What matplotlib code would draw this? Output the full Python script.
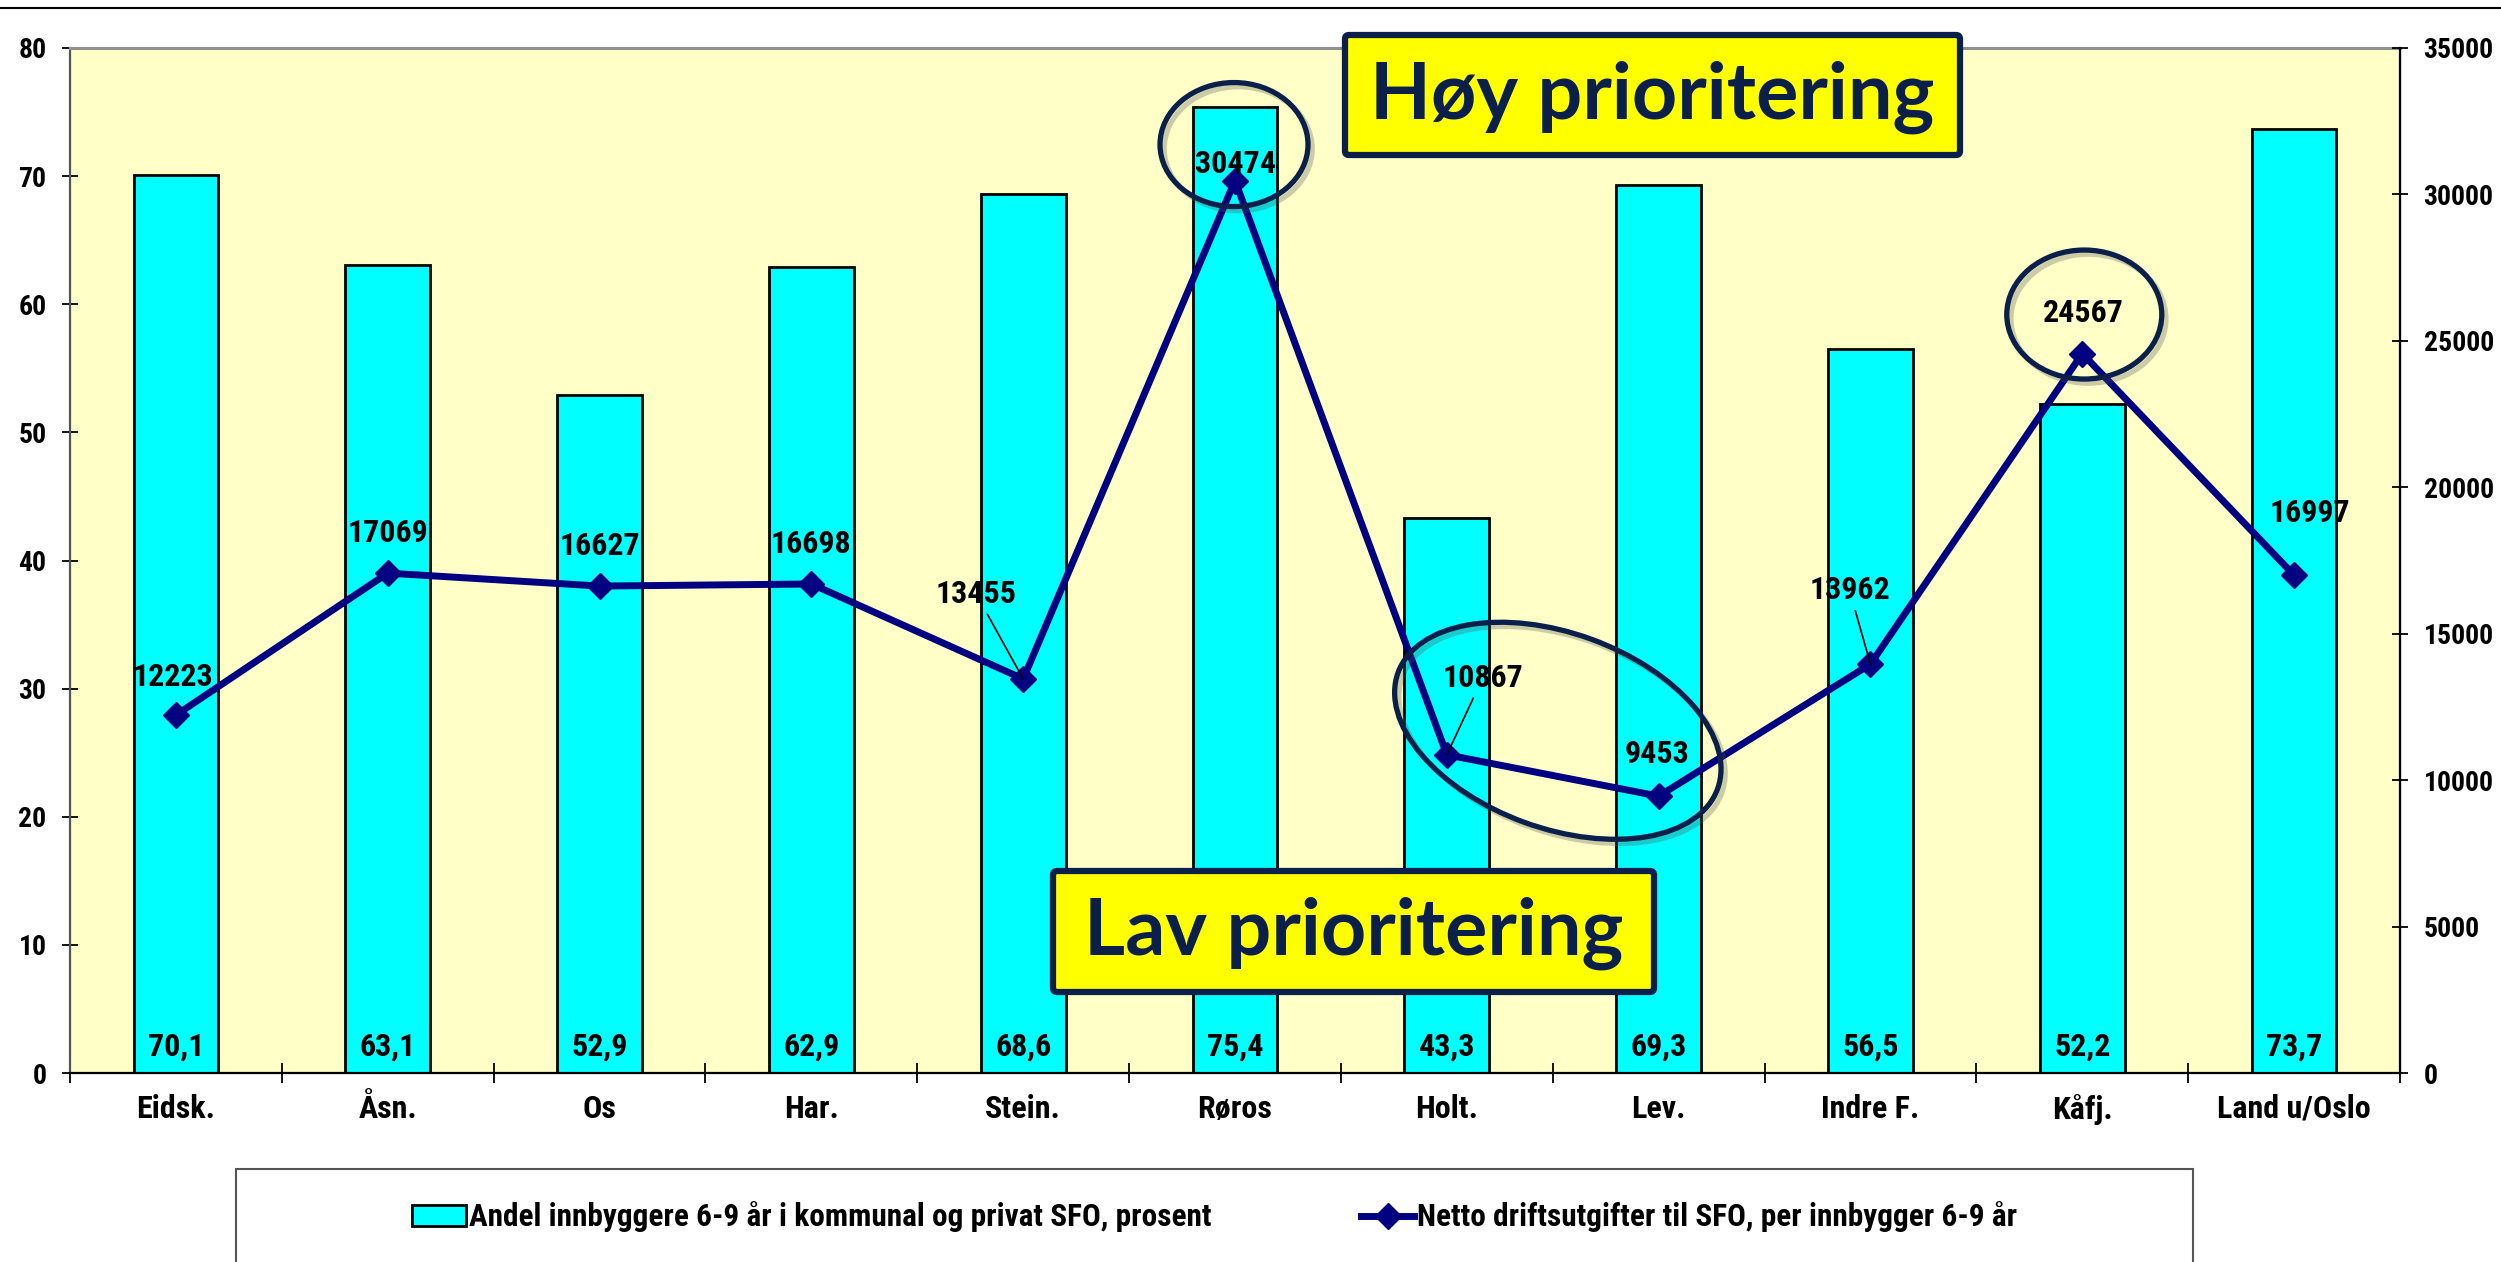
import matplotlib
matplotlib.use('Agg')
import numpy as np
import matplotlib.pyplot as plt
from matplotlib import font_manager, transforms as mtransforms, patheffects as pe
from matplotlib.patches import Ellipse, Rectangle, FancyBboxPatch
from matplotlib.lines import Line2D

categories = ['Eidsk.', 'Åsn.', 'Os', 'Har.', 'Stein.', 'Røros', 'Holt.', 'Lev.', 'Indre F.', 'Kåfj.', 'Land u/Oslo']
andel = [70.1, 63.1, 52.9, 62.9, 68.6, 75.4, 43.3, 69.3, 56.5, 52.2, 73.7]
netto = [12223, 17069, 16627, 16698, 13455, 30474, 10867, 9453, 13962, 24567, 16997]
andel_labels = ['70,1', '63,1', '52,9', '62,9', '68,6', '75,4', '43,3', '69,3', '56,5', '52,2', '73,7']
left_ticks = [0, 10, 20, 30, 40, 50, 60, 70, 80]
right_ticks = [0, 5000, 10000, 15000, 20000, 25000, 30000, 35000]
legend_labels = ['Andel innbyggere 6-9 år i kommunal og privat SFO, prosent',
                 'Netto driftsutgifter til SFO, per innbygger 6-9 år']

names = {f.name for f in font_manager.fontManager.ttflist}

def find_condensed():
    prefs = []
    for f in font_manager.fontManager.ttflist:
        nm = f.name
        st = str(f.stretch)
        if f.style != 'normal':
            continue
        low = f.fname.lower()
        if 'italic' in low or 'oblique' in low:
            continue
        cond = ('Narrow' in nm or 'Condensed' in nm or 'condensed' in low or 'narrow' in low
                or st in ('condensed', 'semi-condensed', '75', '87'))
        w = f.weight if isinstance(f.weight, int) else {'bold': 700}.get(f.weight, 400)
        if cond and w >= 600:
            score = 0
            if 'Liberation' in nm or 'Arial' in nm:
                score = 3
            elif 'Roboto' in nm:
                score = 2
            elif 'DejaVu' in nm:
                score = 1
            score = score * 1000 - abs(w - 700)
            prefs.append((score, f.fname))
    if prefs:
        prefs.sort(reverse=True)
        return prefs[0][1]
    return None

cfile = find_condensed()
def NF(size):
    if cfile:
        return font_manager.FontProperties(fname=cfile, size=size)
    return font_manager.FontProperties(family=['Liberation Sans', 'DejaVu Sans'], weight='bold', size=size)

title_font = [f for f in ['Lato', 'Open Sans', 'DejaVu Sans'] if f in names]

W, H = 2501, 1262
DPI = 100
fig = plt.figure(figsize=(W / DPI, H / DPI), dpi=DPI)
fig.patch.set_facecolor('white')

L, R, T, B = 70, 2400, 48, 1073
ax = fig.add_axes([L / W, (H - B) / H, (R - L) / W, (B - T) / H])
ax.set_facecolor('#FFFFC8')
ax2 = ax.twinx()

x = np.arange(len(categories))
bars = ax.bar(x, andel, width=0.40, color='#00FFFF', edgecolor='black', linewidth=2.0, zorder=2)
ax.set_xlim(-0.5, len(categories) - 0.5)
ax.set_ylim(0, 80)
ax2.set_ylim(0, 35000)

line, = ax2.plot(x, netto, color='#000080', lw=5.0, marker='D', markersize=13, zorder=5)

ax.spines['left'].set_color('#555555')
ax.spines['left'].set_linewidth(1.6)
ax.spines['top'].set_color('#909090')
ax.spines['top'].set_linewidth(2.2)
ax.spines['bottom'].set_color('black')
ax.spines['bottom'].set_linewidth(1.6)
ax2.spines['right'].set_color('black')
ax2.spines['right'].set_linewidth(1.6)
for s in ['left', 'top', 'bottom']:
    ax2.spines[s].set_visible(False)

ax.set_yticks(left_ticks)
ax.set_yticklabels([str(v) for v in left_ticks], fontproperties=NF(20))
ax.tick_params(axis='y', direction='inout', length=12, width=1.3, pad=11, colors='black')
ax2.set_yticks(right_ticks)
ax2.set_yticklabels([str(v) for v in right_ticks], fontproperties=NF(20))
ax2.tick_params(axis='y', direction='inout', length=12, width=1.3, pad=11)

ax.set_xticks(x)
ax.set_xticklabels(categories, fontproperties=NF(23))
ax.set_xticks(np.arange(-0.5, len(categories), 1.0), minor=True)
ax.tick_params(axis='x', which='major', length=0, pad=15)
ax.tick_params(axis='x', which='minor', direction='inout', length=14, width=1.3)

for xi, lab in zip(x, andel_labels):
    ax.annotate(lab, (xi, 0), xytext=(0, 26), textcoords='offset pixels',
                ha='center', va='center', fontproperties=NF(23), zorder=6)

offsets = [(-3, 38), (0, 40), (0, 40), (0, 40), (-47, 85), (0, 17), (36, 77), (-2, 42), (-21, 74), (1, 41), (16, 62)]
leaders = [False, False, False, False, True, False, True, False, True, False, False]
for xi, v, off, lead in zip(x, netto, offsets, leaders):
    kw = {}
    if lead:
        kw['arrowprops'] = dict(arrowstyle='-', color='black', lw=1.2, shrinkA=2, shrinkB=0)
    ax2.annotate(str(v), (xi, v), xytext=off, textcoords='offset pixels', ha='center', va='center',
                 fontproperties=NF(23), zorder=7, **kw)

ell_color = '#0B1F4B'
def mark(xi, yi, dx, dy, w, h, angle=0):
    tr = mtransforms.Affine2D().translate(dx, dy) + mtransforms.ScaledTranslation(xi, yi, ax2.transData)
    e = Ellipse((0, 0), w, h, angle=angle, transform=tr, fill=False, edgecolor=ell_color,
                lw=3.8, zorder=8, clip_on=False)
    e.set_path_effects([pe.SimpleLineShadow(offset=(3, -3), alpha=0.3, shadow_color='#555555'), pe.Normal()])
    fig.add_artist(e)

mark(5, netto[5], -1, 36, 148, 124)
mark(9, netto[9], 2, 39, 155, 129)
mark(6, netto[6], 111, 24, 340, 195, angle=-20)

def prio_box(x0, y0, x1, y1, text):
    box = FancyBboxPatch((x0, H - y1), x1 - x0, y1 - y0, boxstyle='round,pad=0,rounding_size=4',
                         transform=mtransforms.IdentityTransform(), facecolor='#FFFF00',
                         edgecolor=ell_color, lw=4.5, zorder=10)
    fig.add_artist(box)
    fig.text((x0 + x1) / 2 / W, 1 - ((y0 + y1) / 2 + 2) / H, text, ha='center', va='center',
             family=title_font, fontweight='bold', fontsize=57, color=ell_color, zorder=11)

prio_box(1345, 35, 1960, 155, 'Høy prioritering')
prio_box(1053, 871, 1654, 992, 'Lav prioritering')

fig.add_artist(Line2D([0, 1], [1 - 8 / H, 1 - 8 / H], color='black', lw=1.5, transform=fig.transFigure))

fig.add_artist(Rectangle((236 / W, -0.05), (2193 - 236) / W, (H - 1169) / H + 0.05,
                         transform=fig.transFigure, facecolor='white', edgecolor='#555555', lw=1.5, zorder=1))
leg = fig.legend([bars, line], legend_labels, loc='center', bbox_to_anchor=(1215 / W, 1 - 1217 / H),
                 ncol=2, frameon=False, columnspacing=4.8, handlelength=1.7, handletextpad=0.1,
                 prop=NF(22.5))
leg.set_zorder(12)

fig.savefig('out.png', dpi=DPI)
